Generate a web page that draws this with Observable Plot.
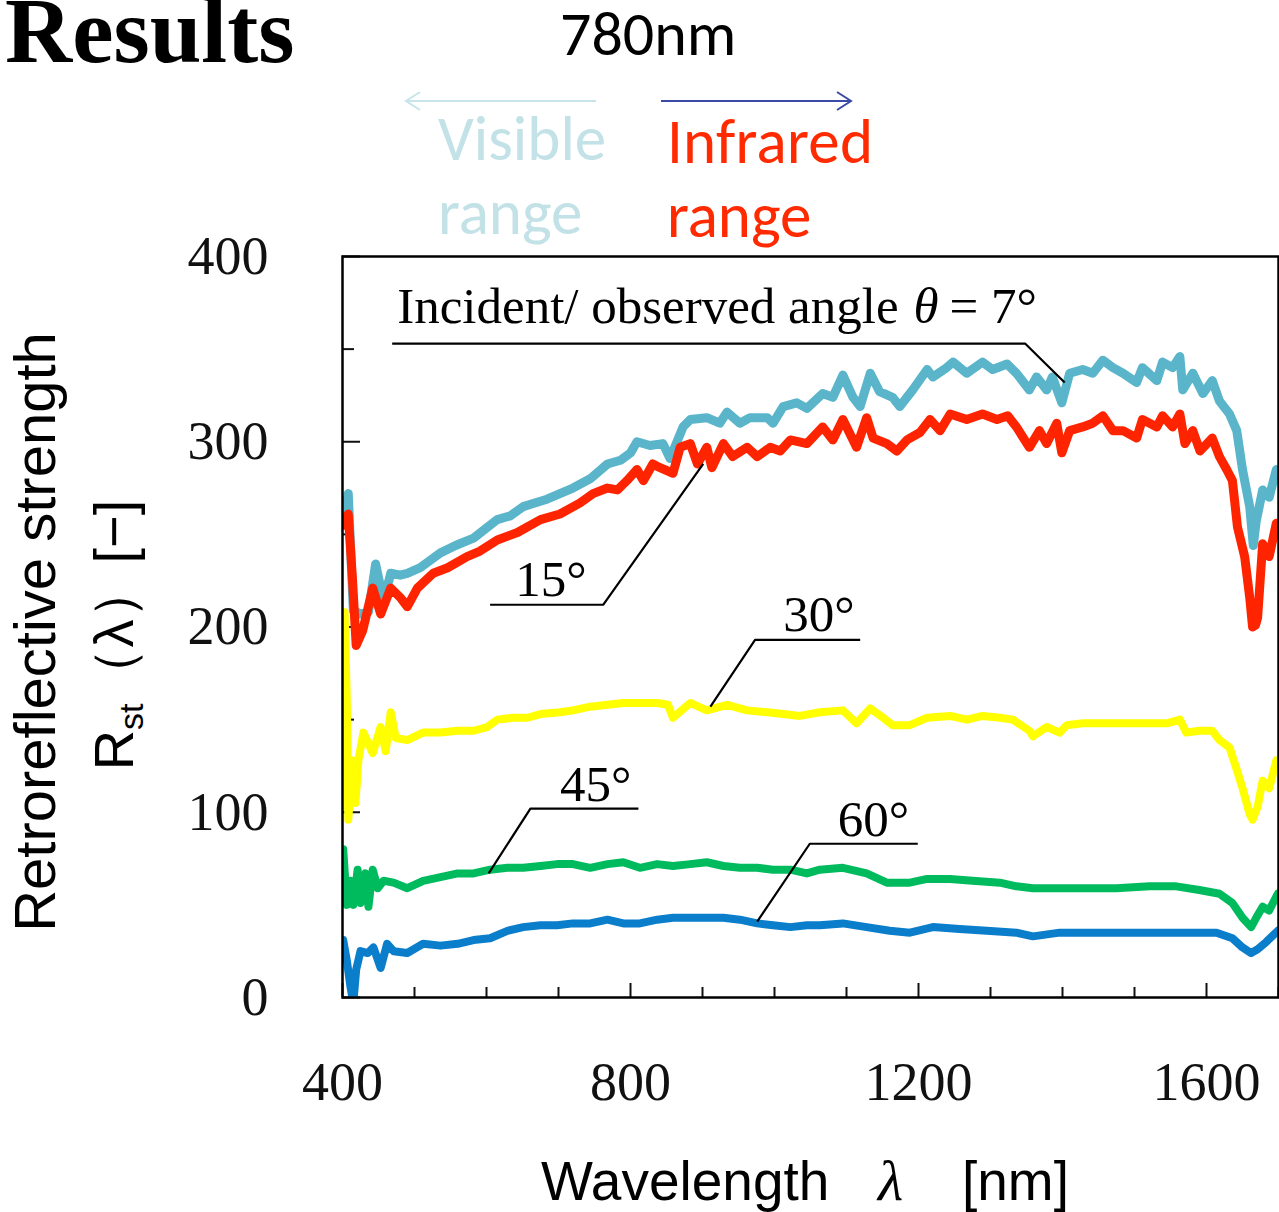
<!DOCTYPE html>
<html>
<head>
<meta charset="utf-8">
<script src="https://cdn.jsdelivr.net/npm/d3@7"></script>
<script src="https://cdn.jsdelivr.net/npm/@observablehq/plot@0.6"></script>
<style>
  html, body { margin: 0; padding: 0; background: #fff; }
  #wrap { position: relative; width: 1279px; height: 1212px; overflow: hidden; background: #fff; }
  #chart { position: absolute; left: 0; top: 0; }
  #overlay { position: absolute; left: 0; top: 0; pointer-events: none; }
</style>
</head>
<body>
<div id="wrap">
  <div id="chart"></div>
  <svg id="overlay" width="1279" height="1212" xmlns="http://www.w3.org/2000/svg">
    <text x="5" y="62" font-family="'Liberation Serif','Times New Roman',serif" font-weight="bold" font-size="93" fill="#000">Results</text>
    <text x="560" y="55" font-family="Carlito, Calibri, 'Open Sans', sans-serif" font-size="62" fill="#000">780nm</text>
    <g fill="none" stroke-width="2">
      <path d="M596,101 L406,101 M420,92 L406,101 L420,110" stroke="#c6e4ea"/>
      <path d="M661,101 L851,101 M837,92 L851,101 L837,110" stroke="#3b4aa5"/>
    </g>
    <g font-family="Carlito, Calibri, 'Open Sans', sans-serif" font-size="63">
      <text x="438" y="160" fill="#c3e2e7">Visible</text>
      <text x="438" y="234" fill="#c3e2e7">range</text>
      <text x="667" y="163" fill="#ff2a00" textLength="206">Infrared</text>
      <text x="667" y="237" fill="#ff2a00">range</text>
    </g>
    <g font-family="'Liberation Sans', Arial, sans-serif" font-size="58" fill="#000">
      <text transform="translate(55,632) rotate(-90)" text-anchor="middle">Retroreflective strength</text>
      <text transform="translate(133,635) rotate(-90)" text-anchor="middle" font-size="56">R<tspan font-size="34" dy="10">st</tspan><tspan dy="-10">（λ）[−]</tspan></text>
    </g>
    <g font-family="'Liberation Sans', Arial, sans-serif" font-size="55" fill="#000">
      <text x="541" y="1200">Wavelength</text>
      <text x="878" y="1200" font-family="'Liberation Serif', serif" font-style="italic" font-size="58">λ</text>
      <text x="962" y="1200">[nm]</text>
    </g>
  </svg>
</div>
<script>
// Series: [wavelength nm, retroreflective strength]
const angles = ["7°", "15°", "30°", "45°", "60°"];
const colors = ["#5ab5ca", "#ff2400", "#ffff00", "#00bb5e", "#0a7dcb"];

const s7 = [[404,262],[408,272],[415,209],[425,207],[436,208],[446,234],[457,214],[467,229],[480,228],[490,229],[508,232],[536,240],[557,244],[582,248],[615,258],[633,260],[651,265],[684,269],[720,275],[744,280],[768,288],[786,290],[800,294],[809,300],[827,298],[845,299],[855,291],[873,308],[883,312],[906,313],[924,310],[934,316],[952,310],[966,313],[990,313],[998,310],[1012,319],[1031,321],[1045,318],[1067,326],[1081,324],[1095,336],[1109,324],[1119,319],[1133,337],[1146,327],[1164,324],[1174,319],[1192,328],[1212,339],[1220,335],[1239,340],[1248,343],[1267,337],[1289,343],[1303,339],[1323,342],[1336,337],[1354,328],[1364,335],[1378,328],[1386,335],[1399,321],[1410,337],[1428,339],[1442,337],[1456,344],[1470,340],[1484,337],[1503,332],[1511,340],[1531,333],[1539,343],[1553,340],[1563,346],[1567,328],[1581,337],[1595,326],[1608,333],[1618,322],[1632,315],[1642,306],[1650,285],[1660,265],[1665,244],[1669,257],[1678,274],[1687,270],[1697,285]];

const s15 = [[402,255],[408,261],[414,225],[419,190],[428,198],[442,221],[453,207],[467,221],[480,216],[490,211],[504,221],[526,229],[546,232],[573,238],[591,241],[615,247],[643,251],[675,258],[702,261],[730,267],[748,272],[768,275],[782,274],[795,279],[809,285],[818,279],[831,288],[841,286],[859,283],[869,297],[883,299],[893,288],[906,297],[913,286],[929,299],[942,292],[962,297],[976,292],[994,297],[1008,295],[1022,301],[1045,299],[1067,308],[1081,301],[1095,312],[1114,297],[1128,313],[1137,302],[1156,299],[1170,295],[1184,301],[1202,305],[1216,312],[1230,306],[1244,315],[1267,312],[1289,315],[1309,312],[1324,314],[1336,308],[1354,297],[1368,306],[1378,299],[1392,310],[1399,294],[1410,306],[1428,308],[1442,310],[1456,314],[1470,306],[1484,306],[1503,302],[1511,312],[1531,308],[1539,314],[1553,308],[1563,315],[1570,299],[1581,306],[1591,295],[1608,302],[1618,292],[1628,285],[1636,279],[1643,254],[1653,238],[1660,216],[1664,200],[1668,201],[1671,205],[1678,245],[1687,238],[1697,256]];

const s30 = [[403,208],[406,160],[408,96],[414,128],[418,105],[422,128],[429,143],[442,132],[453,146],[460,133],[467,154],[474,140],[490,139],[512,143],[536,143],[560,144],[582,144],[601,146],[615,150],[637,151],[657,151],[675,153],[702,154],[720,155],[744,157],[768,158],[790,159],[813,159],[837,159],[852,158],[859,151],[883,159],[906,155],[934,158],[962,155],[990,154],[1012,153],[1035,152],[1063,154],[1095,155],[1114,148],[1133,156],[1151,151],[1164,147],[1188,147],[1212,151],[1244,152],[1267,150],[1289,152],[1313,151],[1331,150],[1354,144],[1359,141],[1378,146],[1396,143],[1406,147],[1428,148],[1452,148],[1475,148],[1497,148],[1521,148],[1545,148],[1563,150],[1572,143],[1590,144],[1608,144],[1618,139],[1632,135],[1642,123],[1650,113],[1660,99],[1664,96],[1671,103],[1678,117],[1687,113],[1697,128]];

const s45 = [[401,80],[406,50],[411,63],[415,50],[421,69],[425,51],[432,67],[436,49],[442,69],[449,59],[457,63],[471,62],[490,59],[512,63],[536,65],[560,67],[582,67],[605,69],[629,70],[651,70],[675,71],[698,72],[720,72],[744,70],[768,72],[790,73],[813,70],[837,72],[859,71],[883,72],[906,73],[929,71],[952,70],[976,70],[998,69],[1022,69],[1045,67],[1063,69],[1095,70],[1128,67],[1156,62],[1188,62],[1212,64],[1244,64],[1275,63],[1313,62],[1336,60],[1359,59],[1396,59],[1428,59],[1475,59],[1521,60],[1558,60],[1590,58],[1618,56],[1636,51],[1650,43],[1662,38],[1669,43],[1678,49],[1687,47],[1699,56]];

const s60 = [[401,31],[406,20],[411,6],[415,-3],[419,15],[425,25],[435,24],[443,27],[453,16],[462,29],[471,25],[490,24],[512,29],[536,28],[560,29],[582,31],[605,32],[629,36],[651,38],[675,39],[698,39],[720,40],[744,40],[768,42],[790,40],[813,40],[837,42],[859,43],[883,43],[906,43],[929,43],[952,42],[976,40],[998,39],[1022,38],[1045,39],[1063,39],[1095,40],[1128,38],[1160,36],[1188,35],[1220,38],[1257,37],[1295,36],[1336,35],[1359,33],[1396,35],[1428,35],[1475,35],[1521,35],[1567,35],[1614,35],[1636,32],[1650,27],[1662,24],[1671,26],[1683,30],[1699,36]];

// Annotation leaders (data units) and labels
const leader7  = [[469,353],[1348,353],[1403,332]];
const leader15 = [[605,212],[762,212],[901,288]];
const leader30 = [[1119,193],[973,193],[911,157]];
const leader45 = [[811,102],[661,102],[603,67]];
const leader60 = [[1199,83],[1049,83],[976,41]];
const labelTexts = ["Incident/ observed angle", "θ", "= 7°", "15°", "30°", "45°", "60°"];
const labelItalic = [false, true, false, false, false, false, false];
const labelX = [476, 1193, 1243, 640, 1012, 702, 1088];
const labelY = [364, 364, 364, 217, 198, 106, 87];

const xMajor = [400, 800, 1200, 1600];
const xMinor = [500, 600, 700, 900, 1000, 1100, 1300, 1400, 1500, 1700];
const yMajor = [0, 100, 200, 300, 400];
const yMinor = [50, 150, 250, 350];

const seriesList = [s7, s15, s30, s45, s60];
const toRows = (arr) => arr.map(([wl, rs]) => ({wl, rs}));
const leaderRows = [leader7, leader15, leader30, leader45, leader60]
  .flatMap((pts, i) => pts.map(([wl, rs]) => ({wl, rs, id: i})));
const labelRows = labelTexts.map((t, i) => ({t, wl: labelX[i], rs: labelY[i], it: labelItalic[i]}));

const serif = "'Liberation Serif','Times New Roman',serif";

const chart = Plot.plot({
  width: 1279,
  height: 1212,
  marginLeft: 342,
  marginRight: 1,
  marginTop: 256,
  marginBottom: 215,
  x: {domain: [400, 1700]},
  y: {domain: [0, 400]},
  style: {fontFamily: serif, fontSize: "54px", color: "#111", background: "transparent"},
  marks: [
    Plot.axisX({ticks: xMajor, tickSize: -14, strokeWidth: 2, tickPadding: 78, tickFormat: d => String(d), label: null}),
    Plot.axisX({ticks: xMinor, tickSize: -10, strokeWidth: 2, tickFormat: () => "", label: null}),
    Plot.axisY({ticks: yMajor, tickSize: -18, strokeWidth: 2, tickPadding: 92, tickFormat: d => String(d), label: null}),
    Plot.axisY({ticks: yMinor, tickSize: -12, strokeWidth: 2, tickFormat: () => "", label: null}),
    ...seriesList.map((s, i) => Plot.line(toRows(s), {
      x: "wl", y: "rs", stroke: colors[i], strokeWidth: i < 2 ? 9 : 8, clip: true
    })),
    Plot.line(leaderRows, {x: "wl", y: "rs", z: "id", stroke: "#000", strokeWidth: 2.2, strokeLinejoin: "miter", strokeLinecap: "butt"}),
    Plot.text(labelRows.filter(d => !d.it), {x: "wl", y: "rs", text: "t", textAnchor: "start", lineAnchor: "bottom", fontSize: 51, fontFamily: serif, fill: "#000"}),
    Plot.text(labelRows.filter(d => d.it), {x: "wl", y: "rs", text: "t", textAnchor: "start", lineAnchor: "bottom", fontSize: 51, fontFamily: serif, fontStyle: "italic", fill: "#000"}),
    Plot.frame({stroke: "#000", strokeWidth: 2.5})
  ]
});
document.getElementById("chart").appendChild(chart);
</script>
</body>
</html>
